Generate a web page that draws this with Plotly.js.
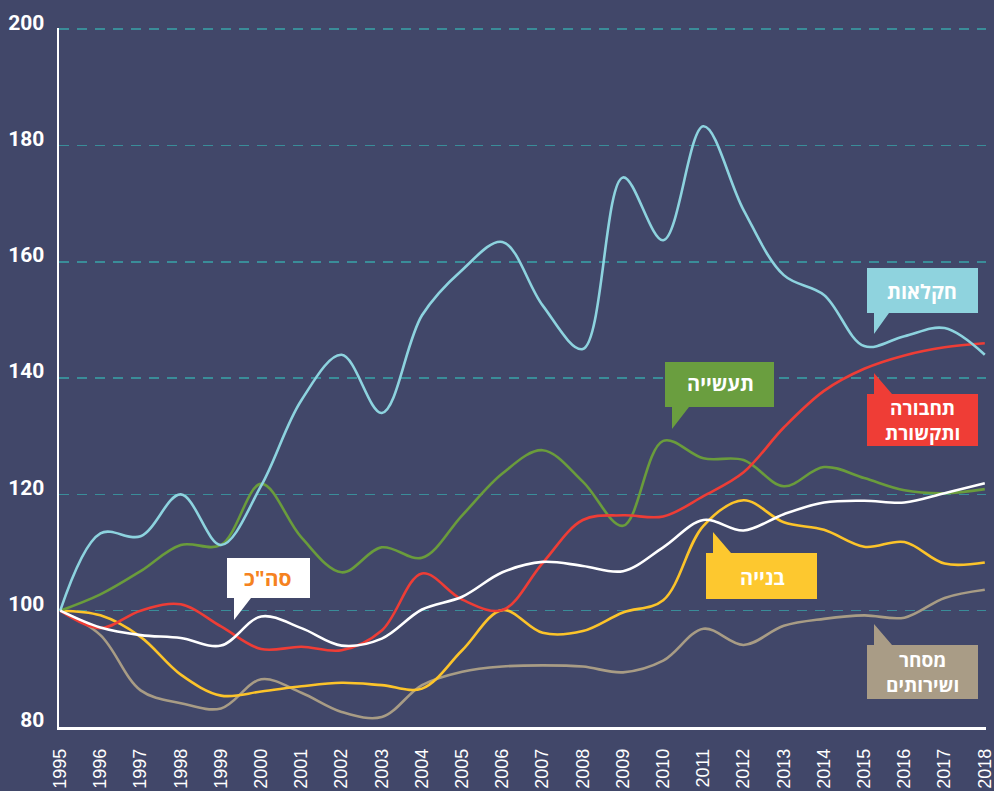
<!DOCTYPE html>
<html>
<head>
<meta charset="utf-8">
<script src="https://cdn.plot.ly/plotly-3.0.1.min.js"></script>
<style>
  html, body { margin: 0; padding: 0; background: #414769; }
  #chart { width: 994px; height: 791px; }
</style>
</head>
<body>
<div id="chart"></div>
<script>
const years = [1995,1996,1997,1998,1999,2000,2001,2002,2003,2004,2005,2006,2007,2008,2009,2010,2011,2012,2013,2014,2015,2016,2017,2018];

const agriculture  = [100,113.3,112.8,120,111.3,121.5,136.2,144,134,150.8,158.6,163.4,152.5,145,174.5,163.7,183.3,168.9,157.7,154.3,145.5,147.2,148.6,144];
const industry     = [100,102.8,106.8,111.3,111.3,121.8,112.6,106.6,110.9,109.1,116.4,123.6,127.6,122.2,114.6,129.2,126.2,125.9,121.4,124.7,122.8,120.7,120.2,120.9];
const transport    = [100,97.0,100,101.1,97.3,93.4,93.8,93.2,96.6,106.4,101.9,100.1,108.2,115.6,116.4,116.2,119.7,123.8,131.5,137.8,141.6,143.9,145.3,146];
const total        = [100,97.1,95.8,95.3,94.0,99.0,97.0,94.0,95.2,100.2,102.4,106.6,108.4,107.7,106.8,110.9,115.6,113.8,116.6,118.6,118.9,118.6,120.2,121.9];
const construction = [100,99.2,95.5,89.0,85.4,86.1,87.0,87.6,87.2,86.6,93.2,100.1,96.2,96.5,99.7,101.8,114.6,119.0,115.2,113.9,111.0,111.8,108.1,108.3];
const trade        = [100,95.8,86.3,84.1,83.2,88.2,85.9,82.6,81.7,87.2,89.5,90.4,90.6,90.4,89.4,91.4,96.9,94.1,97.4,98.6,99.2,98.8,102.2,103.6];

const yTicks = [80,100,120,140,160,180,200];

const seriesNames = ['מסחר ושירותים','בנייה','תעשייה','תחבורה ותקשורת','חקלאות','סה"כ'];
const seriesData  = [trade, construction, industry, transport, agriculture, total];
const seriesColors = ['#a89c85','#fcc42a','#6a9c3c','#ee3d36','#8dd3df','#ffffff'];

const traces = seriesData.map((d, i) => ({
  x: years, y: d, type: 'scatter', mode: 'lines', name: seriesNames[i],
  line: { color: seriesColors[i], width: 2.6, shape: 'spline', smoothing: 1 },
  hoverinfo: 'skip'
}));

// layout geometry (pixels)
const W = 994, H = 791;
const mL = 59, mR = 8, mT = 28, mB = 64;
const pw = W - mL - mR, ph = H - mT - mB;
const px = v => (v - mL) / pw;
const py = v => (H - mB - v) / ph;

function callout(x0, y0, x1, y1, tailX, tailW, apexY, dir, color) {
  let pts;
  if (dir === 'down') {
    pts = [[x0,y0],[x1,y0],[x1,y1],[tailX+tailW,y1],[tailX,apexY],[tailX,y1],[x0,y1]];
  } else {
    pts = [[x0,y0],[tailX,y0],[tailX,apexY],[tailX+tailW,y0],[x1,y0],[x1,y1],[x0,y1]];
  }
  const path = 'M ' + pts.map(p => px(p[0]).toFixed(5) + ',' + py(p[1]).toFixed(5)).join(' L ') + ' Z';
  return { type: 'path', xref: 'paper', yref: 'paper', path: path,
           fillcolor: color, line: { color: color, width: 0 }, layer: 'above' };
}

const shapes = [
  callout(867, 268, 978, 313, 874, 15, 334, 'down', '#8fd3de'),
  callout(867, 394, 978, 446, 874, 18, 373, 'up', '#ef3d36'),
  callout(665, 362, 774, 407, 672, 17, 429, 'down', '#6a9e3f'),
  callout(706, 553, 817, 599, 713, 18, 532, 'up', '#fdc82f'),
  callout(227, 558, 310, 598, 234, 17, 620, 'down', '#ffffff'),
  callout(867, 645, 978, 699, 874, 18, 624, 'up', '#a99c86')
];

const hebFont = 'Open Sans, DejaVu Sans, Liberation Sans, sans-serif';
function label(text, cx, cy, color, size) {
  return { xref: 'paper', yref: 'paper', x: px(cx), y: py(cy), xanchor: 'center', yanchor: 'middle',
           text: '<b>' + text + '</b>', showarrow: false,
           font: { family: hebFont, size: size, color: color } };
}
const annotations = [
  label('חקלאות', 922, 291, '#ffffff', 20),
  label('תחבורה<br>ותקשורת', 922, 420, '#ffffff', 19),
  label('תעשייה', 720, 384, '#ffffff', 20),
  label('בנייה', 762, 577, '#ffffff', 20),
  label('סה"כ', 268, 578, '#f58220', 21),
  label('מסחר<br>ושירותים', 922, 672, '#ffffff', 19)
];

const layout = {
  width: W, height: H,
  margin: { l: mL, r: mR, t: mT, b: mB, pad: 0 },
  paper_bgcolor: '#414769', plot_bgcolor: '#414769',
  showlegend: false,
  xaxis: {
    range: [1994.97, 2018.03], tickmode: 'array', tickvals: years, ticktext: years.map(String),
    tickangle: -90, showgrid: false, zeroline: false,
    showline: true, linecolor: '#ffffff', linewidth: 2.5,
    ticks: '', ticklabelstandoff: 12, ticklabeloverflow: 'allow',
    tickfont: { family: 'Liberation Sans, Arial, sans-serif', size: 18, color: '#ffffff' }
  },
  yaxis: {
    range: [80, 200.2], tickmode: 'array', tickvals: yTicks, ticktext: yTicks.map(String),
    showgrid: true, gridcolor: '#3a8d99', gridwidth: 1.5, griddash: '10px,8px',
    zeroline: false, showline: true, linecolor: '#ffffff', linewidth: 2.5,
    ticks: '', ticklabelstandoff: 8, ticklabelshift: -7,
    tickfont: { family: 'Roboto, sans-serif', size: 21, color: '#ffffff', weight: 'bold' }
  },
  shapes: shapes,
  annotations: annotations
};

Plotly.newPlot('chart', traces, layout, { displayModeBar: false, staticPlot: true });
</script>
</body>
</html>
